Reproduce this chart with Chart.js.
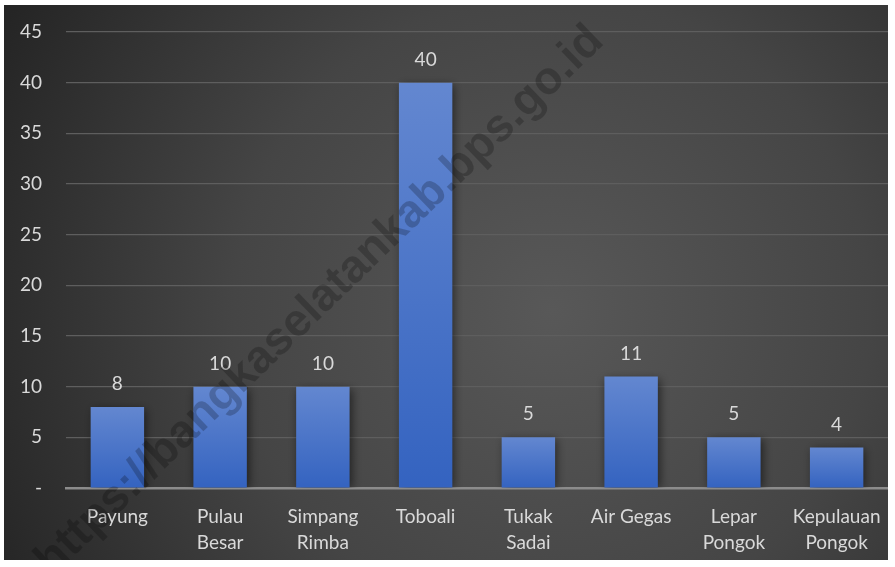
<!DOCTYPE html>
<html>
<head>
<meta charset="utf-8">
<script src="https://cdn.jsdelivr.net/npm/chart.js@4.4.1/dist/chart.umd.min.js"></script>
<style>
  html, body { margin: 0; padding: 0; background: #ffffff; }
  #wrap { position: absolute; left: 4px; top: 5px; width: 884px; height: 555px; }
</style>
</head>
<body>
<div id="wrap"><canvas id="c"></canvas></div>
<script>
const categories = [
  'Payung', ['Pulau', 'Besar'], ['Simpang', 'Rimba'], 'Toboali',
  ['Tukak', 'Sadai'], 'Air Gegas', ['Lepar', 'Pongok'], ['Kepulauan', 'Pongok']
];
const values = [8, 10, 10, 40, 5, 11, 5, 4];
const yTicks = [0, 5, 10, 15, 20, 25, 30, 35, 40, 45];
const watermarkText = 'https://bangkaselatankab.bps.go.id';

const FONT = 'Lato, "Open Sans", sans-serif';

const bgPlugin = {
  id: 'bg',
  beforeDraw(chart) {
    const { ctx, width, height } = chart;
    ctx.save();
    const g = ctx.createRadialGradient(width * 0.62, height * 0.55, 0, width * 0.62, height * 0.55, width * 0.72);
    g.addColorStop(0, '#585858');
    g.addColorStop(0.5, '#454545');
    g.addColorStop(1, '#232323');
    ctx.fillStyle = g;
    ctx.fillRect(0, 0, width, height);
    ctx.restore();
  }
};

const shadowPlugin = {
  id: 'barShadow',
  beforeDatasetDraw(chart) {
    const ctx = chart.ctx;
    ctx.save();
    ctx.shadowColor = 'rgba(0,0,0,0.55)';
    ctx.shadowBlur = 9;
    ctx.shadowOffsetX = 2;
    ctx.shadowOffsetY = 2;
  },
  afterDatasetDraw(chart) {
    chart.ctx.restore();
  }
};

const labelPlugin = {
  id: 'valueLabels',
  afterDatasetsDraw(chart) {
    const ctx = chart.ctx;
    const meta = chart.getDatasetMeta(0);
    ctx.save();
    ctx.fillStyle = '#d9d9d9';
    ctx.font = '19px ' + FONT;
    ctx.textAlign = 'center';
    ctx.textBaseline = 'middle';
    meta.data.forEach((bar, i) => {
      ctx.fillText(String(chart.data.datasets[0].data[i]), bar.x, bar.y - 23);
    });
    ctx.restore();
  }
};

const watermarkPlugin = {
  id: 'watermark',
  afterDraw(chart) {
    const ctx = chart.ctx;
    ctx.save();
    ctx.translate(316, 296);
    ctx.rotate(-44 * Math.PI / 180);
    ctx.font = 'bold 46px "Liberation Sans", Arial, sans-serif';
    ctx.fillStyle = 'rgba(0,0,0,0.22)';
    ctx.textAlign = 'center';
    ctx.textBaseline = 'middle';
    ctx.fillText(watermarkText, 0, 0);
    ctx.restore();
  }
};

function barGradient(context) {
  const chart = context.chart;
  const { chartArea, scales } = chart;
  if (!chartArea || !scales.y) return '#4a76cc';
  const v = context.raw;
  const top = scales.y.getPixelForValue(v);
  const bottom = scales.y.getPixelForValue(0);
  const g = chart.ctx.createLinearGradient(0, top, 0, bottom);
  g.addColorStop(0, '#6387d0');
  g.addColorStop(1, '#3463c0');
  return g;
}

new Chart(document.getElementById('c'), {
  type: 'bar',
  data: {
    labels: categories,
    datasets: [{
      data: values,
      backgroundColor: barGradient,
      borderWidth: 0,
      barPercentage: 0.52,
      categoryPercentage: 1.0
    }]
  },
  options: {
    responsive: true,
    maintainAspectRatio: false,
    animation: false,
    layout: { padding: { top: 27, right: 0, bottom: 0, left: 0 } },
    plugins: { legend: { display: false }, tooltip: { enabled: false } },
    scales: {
      x: {
        grid: { display: false, drawTicks: false },
        border: { display: true, color: '#8c8c8c', width: 2.5 },
        ticks: {
          color: '#d9d9d9',
          font: { family: FONT, size: 19, lineHeight: 1.35 },
          padding: 16,
          maxRotation: 0,
          autoSkip: false
        },
        afterFit(scale) { scale.height = 72; scale.paddingLeft = 0; scale.paddingRight = 0; }
      },
      y: {
        min: 0, max: 45,
        afterBuildTicks(scale) { scale.ticks = yTicks.map(v => ({ value: v })); },
        grid: { color: '#5e5e5e', lineWidth: 1.2, drawTicks: false },
        border: { display: false },
        ticks: {
          color: '#d9d9d9',
          font: { family: FONT, size: 19 },
          padding: 24,
          callback: (v) => v === 0 ? '-' : String(v)
        },
        afterFit(scale) { scale.width = 62; scale.paddingTop = 0; scale.paddingBottom = 0; }
      }
    }
  },
  plugins: [bgPlugin, shadowPlugin, labelPlugin, watermarkPlugin]
});
</script>
</body>
</html>
